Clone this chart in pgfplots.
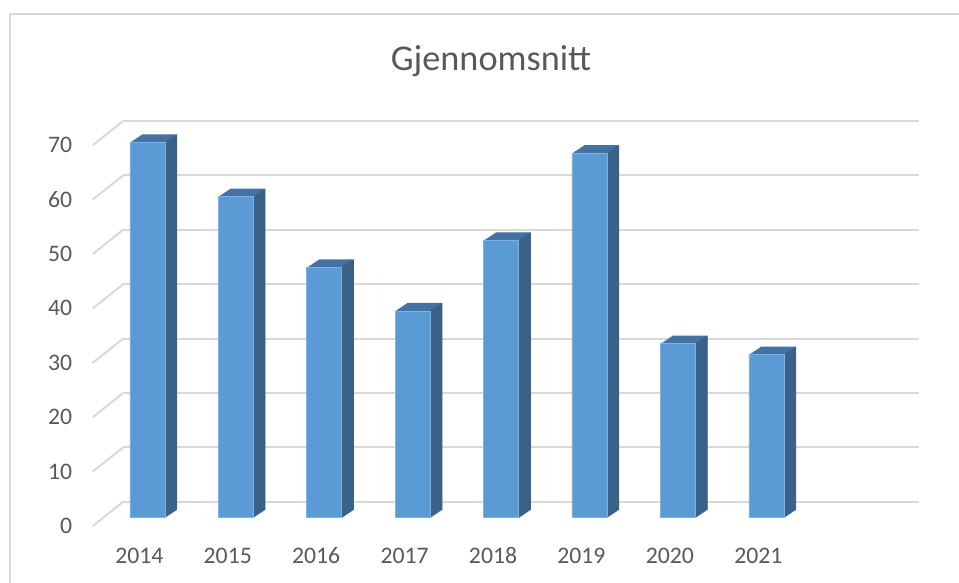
\documentclass[border=0pt]{standalone}
\usepackage{pgfplots}
\usepackage{pgfplotstable}
\pgfplotsset{compat=1.18}
\usepackage{fontspec}
\setmainfont{Carlito}
\definecolor{frontc}{HTML}{5B9BD5}
\definecolor{edgec}{HTML}{7FB2E3}
\definecolor{topc}{HTML}{4472A5}
\definecolor{sidec}{HTML}{3A6187}
\definecolor{gridc}{HTML}{D9D9D9}
\definecolor{textc}{HTML}{595959}
\pgfplotstableread{
x val
0 69
1 59
2 46
3 38
4 51
5 67
6 32
7 30
}\datatable
\begin{document}
\begin{tikzpicture}
\useasboundingbox (0,0) rectangle (479.5bp,-291.5bp);
\draw[gridc, line width=1.1bp] (5bp,-291.5bp) -- (5bp,-7bp) -- (479.5bp,-7bp);
\node[anchor=base, font=\fontsize{18.2}{21}\selectfont, text=textc] at (245.5bp,-35bp) {Gjennomsnitt};
\begin{axis}[
  at={(61.65bp,-250.85bp)}, anchor=south west,
  x=44.215bp, y=2.72bp,
  xmin=-0.5, xmax=8.5, ymin=0, ymax=70,
  axis line style={draw=none},
  major tick length=0pt,
  ymajorgrids,
  grid style={gridc, line width=1bp},
  xtick={0,...,7},
  xticklabels={2014,2015,2016,2017,2018,2019,2020,2021},
  ytick={0,10,...,70},
  /pgf/number format/assume math mode=true,
  tick label style={font=\fontsize{11.9}{14}\selectfont, text=textc, text height=7.5bp, text depth=0pt},
  yticklabel style={anchor=east, inner sep=0pt, xshift=-25.4bp, yshift=-12.15bp},
  xticklabel style={anchor=center, inner sep=0pt, xshift=-14.1bp, yshift=-27.15bp},
  clip=false,
]
\pgfplotsinvokeforeach{0,10,20,30,40,50,60,70}{
  \draw[gridc, line width=1bp] (axis cs:-0.5,#1) -- ++(-15.3bp,-12.15bp);
}
% top face layer (extrusion)
\pgfplotsinvokeforeach{1,...,12}{
  \addplot[ybar, bar width=17.5bp, bar shift=0pt, fill=topc, draw=none,
    xshift={-10.1bp+#1*0.5bp}, yshift={-8bp+#1*0.3333bp}]
    table[x=x, y=val]{\datatable};
}
% side face layer
\pgfplotsinvokeforeach{1,...,12}{
  \addplot[ybar, bar width=0.75bp, bar shift={8.75bp+(#1-0.5)*0.5bp}, fill=sidec, draw=none,
    xshift=-10.1bp, yshift={-8bp+(#1-0.5)*0.3333bp}]
    table[x=x, y=val]{\datatable};
}
% front face
\addplot[ybar, bar width=17.5bp, bar shift=0pt, fill=frontc, draw=edgec, line width=0.3bp,
  xshift=-10.1bp, yshift=-8bp]
  table[x=x, y=val]{\datatable};
\end{axis}
\end{tikzpicture}
\end{document}
